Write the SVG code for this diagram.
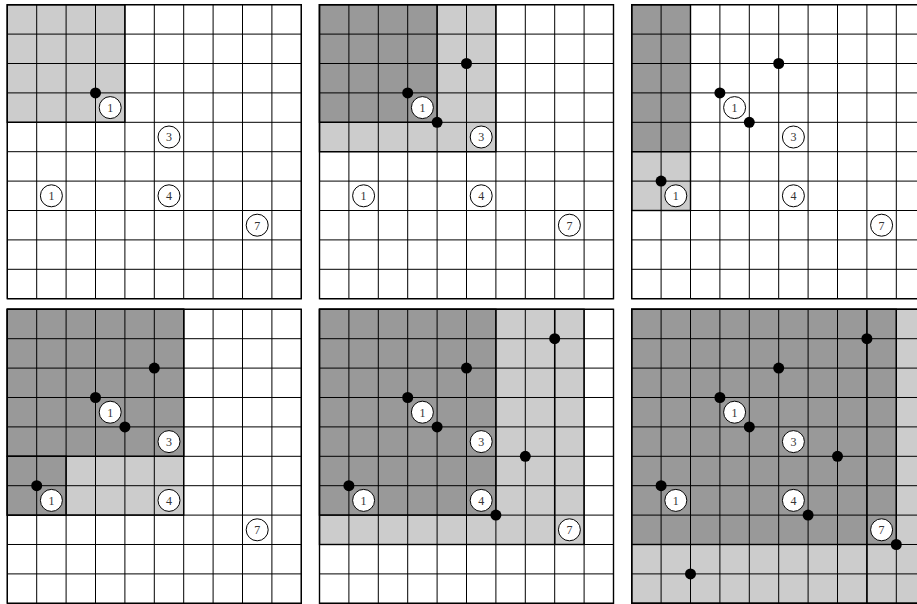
<svg xmlns="http://www.w3.org/2000/svg" xmlns:xlink="http://www.w3.org/1999/xlink" width="917" height="604" viewBox="0 0 917 604">
<style>
.bg{fill:#ffffff}
.dk{fill:#999999;stroke:#000;stroke-width:1.4}
.lt{fill:#cccccc;stroke:#000;stroke-width:1.4}
.grid{fill:none;stroke:#000;stroke-width:1}
.frame{fill:none;stroke:#000;stroke-width:1.4}
.thick{fill:none;stroke:#000;stroke-width:1.5}
.dot{fill:#000}
.lc{fill:#fff;stroke:#000;stroke-width:1}
.lt2{font-family:"Liberation Serif","DejaVu Serif",serif;font-size:12px;fill:#333;text-anchor:middle;dominant-baseline:central}
</style>
<defs>
<path id="grid" class="grid" d="M0 0V294M29.4 0V294M58.8 0V294M88.2 0V294M117.6 0V294M147 0V294M176.4 0V294M205.8 0V294M235.2 0V294M264.6 0V294M294 0V294M0 0H294M0 29.4H294M0 58.8H294M0 88.2H294M0 117.6H294M0 147H294M0 176.4H294M0 205.8H294M0 235.2H294M0 264.6H294M0 294H294"/>
<g id="labels">
<g><circle class="lc" cx="102.9" cy="102.9" r="11"/><text class="lt2" x="102.9" y="103.4">1</text></g>
<g><circle class="lc" cx="161.7" cy="132.3" r="11"/><text class="lt2" x="161.7" y="132.8">3</text></g>
<g><circle class="lc" cx="44.1" cy="191.1" r="11"/><text class="lt2" x="44.1" y="191.6">1</text></g>
<g><circle class="lc" cx="161.7" cy="191.1" r="11"/><text class="lt2" x="161.7" y="191.6">4</text></g>
<g><circle class="lc" cx="249.9" cy="220.5" r="11"/><text class="lt2" x="249.9" y="221">7</text></g>
</g>
</defs>
<rect class="bg" x="0" y="0" width="917" height="604"/>

<g id="panel1" transform="translate(7.3,4.7)">
<rect class="lt" x="0" y="0" width="117.6" height="117.6"/>
<use xlink:href="#grid"/>
<rect class="frame" x="0" y="0" width="294" height="294"/>
<circle class="dot" cx="88.2" cy="88.2" r="5.5"/>
<use xlink:href="#labels"/>
</g>

<g id="panel2" transform="translate(319.5,4.7)">
<rect class="lt" x="0" y="0" width="176.4" height="147"/>
<rect class="dk" x="0" y="0" width="117.6" height="117.6"/>
<use xlink:href="#grid"/>
<rect class="frame" x="0" y="0" width="294" height="294"/>
<circle class="dot" cx="88.2" cy="88.2" r="5.5"/>
<circle class="dot" cx="117.6" cy="117.6" r="5.5"/>
<circle class="dot" cx="147" cy="58.8" r="5.5"/>
<use xlink:href="#labels"/>
</g>

<g id="panel3" transform="translate(631.7,4.7)">
<rect class="dk" x="0" y="0" width="58.8" height="147"/>
<rect class="lt" x="0" y="147" width="58.8" height="58.8"/>
<use xlink:href="#grid"/>
<rect class="frame" x="0" y="0" width="294" height="294"/>
<circle class="dot" cx="88.2" cy="88.2" r="5.5"/>
<circle class="dot" cx="117.6" cy="117.6" r="5.5"/>
<circle class="dot" cx="147" cy="58.8" r="5.5"/>
<circle class="dot" cx="29.4" cy="176.4" r="5.5"/>
<use xlink:href="#labels"/>
</g>

<g id="panel4" transform="translate(7.3,309.3)">
<rect class="lt" x="0" y="0" width="176.4" height="205.8"/>
<rect class="dk" x="0" y="0" width="176.4" height="147"/>
<rect class="dk" x="0" y="147" width="58.8" height="58.8"/>
<use xlink:href="#grid"/>
<rect class="frame" x="0" y="0" width="294" height="294"/>
<circle class="dot" cx="88.2" cy="88.2" r="5.5"/>
<circle class="dot" cx="117.6" cy="117.6" r="5.5"/>
<circle class="dot" cx="147" cy="58.8" r="5.5"/>
<circle class="dot" cx="29.4" cy="176.4" r="5.5"/>
<use xlink:href="#labels"/>
</g>

<g id="panel5" transform="translate(319.5,309.3)">
<rect class="lt" x="0" y="0" width="264.6" height="235.2"/>
<rect class="dk" x="0" y="0" width="176.4" height="205.8"/>
<use xlink:href="#grid"/>
<path class="thick" d="M235.2 0V235.2"/>
<rect class="frame" x="0" y="0" width="294" height="294"/>
<circle class="dot" cx="88.2" cy="88.2" r="5.5"/>
<circle class="dot" cx="117.6" cy="117.6" r="5.5"/>
<circle class="dot" cx="147" cy="58.8" r="5.5"/>
<circle class="dot" cx="29.4" cy="176.4" r="5.5"/>
<circle class="dot" cx="205.8" cy="147" r="5.5"/>
<circle class="dot" cx="176.4" cy="205.8" r="5.5"/>
<circle class="dot" cx="235.2" cy="29.4" r="5.5"/>
<use xlink:href="#labels"/>
</g>

<g id="panel6" transform="translate(631.7,309.3)">
<rect class="lt" x="0" y="0" width="294" height="294"/>
<rect class="dk" x="0" y="0" width="264.6" height="235.2"/>
<use xlink:href="#grid"/>
<path class="thick" d="M235.2 0V294"/>
<rect class="frame" x="0" y="0" width="294" height="294"/>
<circle class="dot" cx="88.2" cy="88.2" r="5.5"/>
<circle class="dot" cx="117.6" cy="117.6" r="5.5"/>
<circle class="dot" cx="147" cy="58.8" r="5.5"/>
<circle class="dot" cx="29.4" cy="176.4" r="5.5"/>
<circle class="dot" cx="205.8" cy="147" r="5.5"/>
<circle class="dot" cx="176.4" cy="205.8" r="5.5"/>
<circle class="dot" cx="235.2" cy="29.4" r="5.5"/>
<circle class="dot" cx="264.6" cy="235.2" r="5.5"/>
<circle class="dot" cx="58.8" cy="264.6" r="5.5"/>
<use xlink:href="#labels"/>
</g>
</svg>
